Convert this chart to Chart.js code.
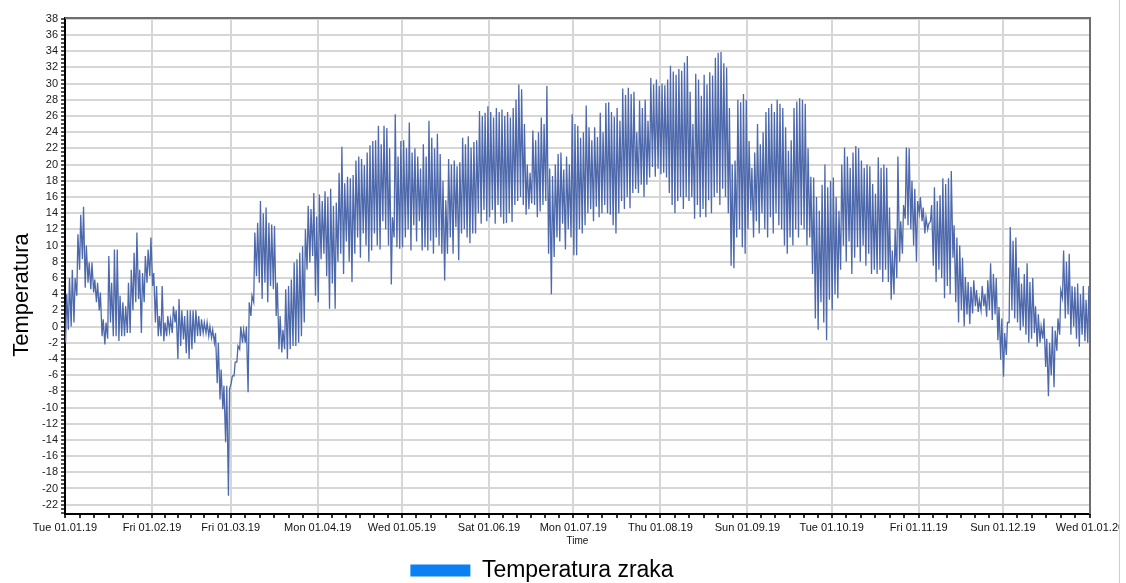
<!DOCTYPE html>
<html>
<head>
<meta charset="utf-8">
<script src="https://cdn.jsdelivr.net/npm/chart.js@4.4.1/dist/chart.umd.min.js"></script>
<style>
  html, body { margin: 0; padding: 0; background: #fff; }
  #wrap { width: 1119px; height: 583px; overflow: hidden; border-right: 1px solid #cfcfcf; }
  canvas { display: block; }
</style>
</head>
<body>
<div id="wrap"><canvas id="chart" width="1119" height="592"></canvas></div>
<script>
// month starts as day-of-year, 2019
const monthStarts = [0, 31, 59, 90, 120, 151, 181, 212, 243, 273, 304, 334, 365];
const monthLabels = ['Tue 01.01.19', 'Fri 01.02.19', 'Fri 01.03.19', 'Mon 01.04.19', 'Wed 01.05.19', 'Sat 01.06.19',
  'Mon 01.07.19', 'Thu 01.08.19', 'Sun 01.09.19', 'Tue 01.10.19', 'Fri 01.11.19', 'Sun 01.12.19', 'Wed 01.01.20'];

// daily maximum (one row per month)
const dailyHigh = [
  4, 6, 7, 6, 11.4, 13.8, 14.8, 10, 7.9, 7.9, 5.8, 5.4, 4.2, 0.9, 0.5, 8.7, 5.4, 9.5, 9.5, 3.8, 3, 2.5, 5.4, 7, 9.1, 11.6, 7, 6.6, 8.7, 9.5, 11,
  6.6, 5, 1.3, 5, 0.5, 1.3, 0.9, 2.5, 2, 3.4, 2, 1.3, 2, 2, 2, 2, 1.3, 0.9, 0.5, 0.5, 0, -0.4, -0.8, -2, -5.3, -7.3, -7.3, -7.7,
  -6.1, -4.4, -2.4, 0, -0.4, 0, 3, 3.8, 11.6, 12.8, 15.5, 14, 14.7, 12.8, 12.6, 12.4, 5.4, 1.3, -0.4, 4.6, 5, 5.8, 7.9, 8.3, 9.1, 9.9, 12, 14.9, 14.5, 16.5, 13.6,
  16.3, 15.5, 16.7, 16, 17, 14.9, 15.3, 19, 22.2, 17.7, 18.5, 18.3, 18.7, 20.5, 21, 20.7, 19.9, 21.5, 22.4, 22.9, 23, 24.8, 22.5, 24.8, 24.5, 22, 13.5, 26.2, 21, 22.9,
  23, 22, 25.2, 21.5, 22, 21, 19.5, 22.5, 21, 25.4, 23.3, 22, 23.8, 21.3, 18, 15.6, 20.7, 20, 20.5, 19.8, 20.3, 23.3, 22.5, 23.5, 22.1, 22.8, 23, 26.6, 26, 26.4, 27.2,
  26.5, 25.8, 27, 26.5, 26.8, 26, 26.5, 25.8, 27, 28, 29.9, 29.3, 25, 20, 19, 24.2, 23, 24, 25.8, 25, 29.7, 19.5, 18.6, 20, 21.3, 21.5, 19.4, 21, 20, 26.2,
  25, 24.8, 23.3, 24, 27.3, 24.6, 23, 24.6, 23.4, 26.4, 24, 27.6, 27.7, 26.5, 25.9, 27, 25.4, 29.4, 28.6, 29.5, 28.7, 29, 24, 27.9, 27, 28, 25.4, 30.7, 29.9, 30.5, 29.7,
  30, 29.8, 30.5, 32.2, 31.5, 31.1, 31.8, 31.6, 32.6, 33.4, 29, 25, 31.2, 30.5, 28.5, 31.1, 29.9, 31.4, 31, 33.2, 33.8, 33.9, 32.5, 32, 27, 20, 20.5, 28, 27.7, 28.7, 28,
  22.9, 19.6, 21.5, 25, 22.5, 24, 26.5, 27, 27.5, 26.5, 28, 27.5, 27, 24.6, 21.7, 23, 27, 27.8, 28.2, 28, 27.5, 22, 18.5, 18.4, 16, 14.3, 17.5, 20, 17.2, 18,
  18.4, 16, 14.3, 20, 22.1, 21, 19.6, 21.5, 22.3, 22, 20.5, 19.6, 20, 19.8, 17.6, 16.4, 20.9, 19.6, 20, 19.6, 14.7, 9.4, 12, 21, 13, 15, 22.1, 22, 18, 17, 15.5,
  16, 14.7, 13.5, 12.7, 15, 17.2, 15.5, 16.2, 18.3, 17.6, 18.3, 19.2, 12.5, 11, 10, 8.5, 6.1, 5.5, 4.9, 5.7, 4.5, 3.3, 5, 4, 5.7, 7.8, 6.5, 6, 2.4, 1,
  -0.8, 0.5, 12.3, 10.6, 11, 7.3, 5.3, 6.5, 7.8, 5.5, 6, 2.5, 1.5, 0, 1, -1.5, -2, 0, -0.5, 1, 4.5, 9.4, 8, 9, 5, 4.9, 5.3, 4, 5, 3.3, 5
];

// daily minimum
const dailyLow = [
  -2, -0.4, 0, 0.5, 3.8, 7, 8.3, 4.8, 5.4, 4.6, 4.2, 3, 2, -1.2, -2.2, -1.5, 0.5, -1.2, -1.2, -1.8, -1.2, -1.2, -0.8, -0.8, 2, 3, 3.4, -0.8, 3, 5.4, 6.2,
  5, 0.5, -1.2, -1.2, -1.8, -1.2, -0.6, -0.8, 0.5, -4, -2.4, -1.6, -3.3, -4, -2.8, -2, -1.2, -1.2, -0.8, -0.8, -1.2, -1.4, -2, -7, -9, -10.2, -14.3, -20.9,
  -7, -6.1, -4.4, -2.8, -2, -2, -8.1, 1.3, 3, 6.2, 5.4, 3.4, 5.4, 3, 5, 4.6, 1.3, -2.8, -3.2, -2.8, -4, -2.8, -2.4, -2.4, -2, -1.2, 0.5, 7, 7.9, 8.7, 3.8,
  3, 8.3, 9, 6.2, 2.2, 5.3, 2.2, 8, 9, 6.5, 10.5, 8, 5.5, 9, 11, 8.5, 11.5, 10, 8, 9.4, 11.5, 10, 9.5, 13, 12, 10, 5.2, 11, 9.8, 9.6,
  9.8, 11, 12, 9.4, 12.5, 10.5, 13, 9.4, 9.8, 9.4, 10.6, 9, 11, 10, 9, 5.7, 9, 11, 9, 12.3, 8.2, 11.5, 12, 11, 10.3, 11.5, 11.5, 14, 12.7, 14.4, 13,
  13.5, 14.4, 12.7, 15, 13.5, 12.7, 12.8, 14, 12.9, 15, 15.5, 16, 15, 13.8, 14.5, 15.2, 15, 13.5, 14.2, 15, 15.5, 9, 4, 8.6, 11, 10.5, 12.7, 9.5, 12, 11,
  8.8, 8.8, 12, 11.5, 12.5, 14, 14.5, 13, 14.8, 13.5, 14, 15, 14, 13.8, 12.5, 11.5, 14, 15.5, 14.5, 16, 14.6, 16.5, 17, 16.5, 17.5, 16, 17.5, 18.4, 19.7, 18.5, 19.5,
  18.8, 19, 18.4, 16.5, 15, 14, 15.5, 16, 14.5, 16, 15.5, 16, 13.3, 15, 13.5, 14.5, 13.5, 15.6, 14, 16, 16.5, 15, 17, 16, 14, 7.5, 7.2, 11, 12, 9.8, 9,
  12, 14.3, 11, 13, 11.5, 14, 12, 11, 13.5, 11.5, 14, 12.5, 12, 10, 9, 11, 10, 12, 11, 12.5, 12, 10, 11, 6.5, 1, -0.4, 3, 0.5, -1.7, 3.3,
  2, 4, 3.5, 7, 10, 8, 10.5, 6.5, 8.5, 9.8, 8, 10, 7.5, 9, 6.5, 7, 6.5, 7, 5.5, 7, 5.5, 3.3, 4, 6, 8, 9, 13.3, 12.5, 12, 10, 8,
  14, 13, 11.5, 12, 13, 7.5, 5.5, 7, 6, 3.5, 5, 4, 8.5, 3, 0.5, 2, 0, 1.5, 0.3, 1.6, 2.5, 1.8, 2, 2.5, 1.2, 2, 0.8, 1.5, -1.7, -4.1,
  -6.2, -3.5, 0.5, 2, 1, 0.5, -0.5, 0, -1, -2, -1.5, -0.8, -2.5, -2, -1.5, -5, -8.6, -6, -7.5, -3, -1, 3.5, 1, 1.5, -1, 0, -1.5, -2.5, -1, -1.8, -2
];

const seriesName = 'Temperatura zraka';
const yTitle = 'Temperatura';
const fontFamily = "'Liberation Sans', Arial, sans-serif";

// low in the early morning, high in the afternoon
const points = [];
dailyLow.forEach((lo, d) => {
  points.push({ x: d + 0.2, y: lo });
  points.push({ x: d + 0.6, y: dailyHigh[d] });
});

// grey top/right frame, y title sitting a bit below the middle, legend nudged left
const frame = {
  id: 'frame',
  afterLayout(chart) {
    chart.legend.left -= 3;
    chart.legend.right -= 3;
  },
  afterDatasetsDraw(chart) {
    const { ctx, chartArea: a } = chart;
    ctx.save();
    ctx.strokeStyle = '#6e6e6e';
    ctx.lineWidth = 2;
    ctx.beginPath();
    ctx.moveTo(a.left, a.top);
    ctx.lineTo(a.right, a.top);
    ctx.lineTo(a.right, a.bottom);
    ctx.stroke();
    ctx.restore();
  },
  afterDraw(chart) {
    const { ctx } = chart;
    ctx.save();
    ctx.translate(22, 295);
    ctx.rotate(-Math.PI / 2);
    ctx.font = `22px ${fontFamily}`;
    ctx.fillStyle = '#000';
    ctx.textAlign = 'center';
    ctx.textBaseline = 'middle';
    ctx.fillText(yTitle, 0, 0);
    ctx.restore();
  },
};

new Chart(document.getElementById('chart'), {
  type: 'line',
  data: {
    datasets: [{
      label: seriesName,
      data: points,
      borderColor: '#4d69ac',
      backgroundColor: '#0a80f5',
      borderWidth: 1.3,
      pointRadius: 0,
      tension: 0,
      fill: false,
    }],
  },
  options: {
    responsive: false,
    animation: false,
    parsing: false,
    layout: { padding: { left: 0, right: 29, top: 18, bottom: 0 } },
    scales: {
      x: {
        type: 'linear',
        min: 0,
        max: 365,
        afterBuildTicks: (scale) => {
          const ticks = [];
          for (let m = 0; m < 12; m++) {
            const s = monthStarts[m];
            const len = monthStarts[m + 1] - s;
            for (let k = 0; k < 6; k++) ticks.push({ value: s + (k * len) / 6 });
          }
          ticks.push({ value: 365 });
          scale.ticks = ticks;
        },
        afterFit: (scale) => {
          scale.height = 41;
          scale.paddingLeft = 0;
          scale.paddingRight = 0;
        },
        ticks: {
          autoSkip: false,
          maxRotation: 0,
          padding: 3,
          color: '#111',
          font: { family: fontFamily, size: 11 },
          callback: (value) => {
            const i = monthStarts.indexOf(value);
            return i >= 0 ? monthLabels[i] : '';
          },
        },
        grid: {
          lineWidth: 2,
          tickLength: 4,
          color: (ctx) => (ctx.tick && monthStarts.includes(ctx.tick.value) ? '#d6d6d6' : 'rgba(0,0,0,0)'),
          tickColor: '#333',
        },
        border: { color: '#000', width: 2 },
        title: {
          display: true,
          text: 'Time',
          color: '#111',
          font: { family: fontFamily, size: 10 },
          padding: { top: 0, bottom: 8 },
        },
      },
      y: {
        min: -23.15,
        max: 38.1,
        afterBuildTicks: (scale) => {
          const ticks = [];
          for (let v = -23; v <= 38; v += 0.5) ticks.push({ value: v });
          scale.ticks = ticks;
        },
        afterFit: (scale) => {
          scale.width = 65;
        },
        ticks: {
          autoSkip: false,
          padding: 3,
          color: '#222',
          font: { family: fontFamily, size: 11 },
          callback: (value) => (Number.isInteger(value) && value % 2 === 0 ? String(value) : ''),
        },
        grid: {
          lineWidth: 2,
          tickLength: 4,
          color: (ctx) => (ctx.tick && Number.isInteger(ctx.tick.value) && ctx.tick.value % 2 === 0 ? '#d6d6d6' : 'rgba(0,0,0,0)'),
          tickColor: '#555',
        },
        border: { color: '#000', width: 2 },
      },
    },
    plugins: {
      legend: {
        position: 'bottom',
        labels: {
          boxWidth: 60,
          boxHeight: 12,
          padding: 4,
          color: '#000',
          font: { family: fontFamily, size: 23 },
          generateLabels: (chart) => chart.data.datasets.map((ds, i) => ({
            text: ds.label,
            fillStyle: ds.backgroundColor,
            strokeStyle: ds.backgroundColor,
            lineWidth: 0,
            datasetIndex: i,
            hidden: false,
          })),
        },
      },
      tooltip: { enabled: false },
    },
  },
  plugins: [frame],
});
</script>
</body>
</html>
